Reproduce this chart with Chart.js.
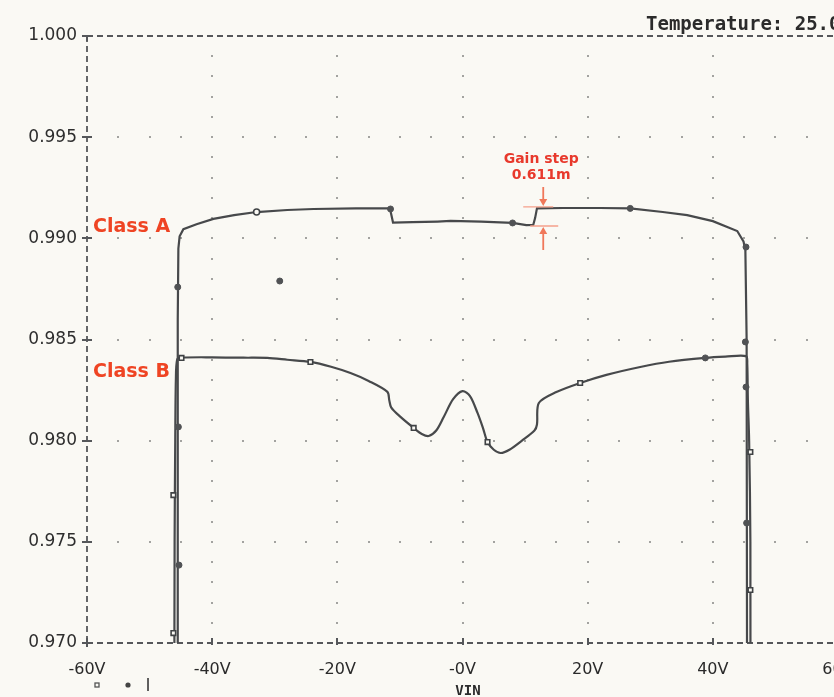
<!DOCTYPE html>
<html><head><meta charset="utf-8">
<script src="https://cdn.jsdelivr.net/npm/chart.js@4"></script>
<style>
html,body{margin:0;padding:0;background:#faf9f4;overflow:hidden;width:834px;height:697px}
#wrap{position:absolute;left:0;top:0;width:900px;height:697px}
</style>
</head><body><div id="wrap"><canvas id="c"></canvas></div>
<script>
// ---- tick labels ----
const xTickValues = [-60, -40, -20, 0, 20, 40, 60];
const xTickLabels = ['-60V', '-40V', '-20V', '-0V', '20V', '40V', '60V'];
const yTickValues = [0.970, 0.975, 0.980, 0.985, 0.990, 0.995, 1.000];
const yTickLabels = ['0.970', '0.975', '0.980', '0.985', '0.990', '0.995', '1.000'];

// ---- series: Class A (VIN in volts, gain) ----
const classA_V = [-45.5, -45.5, -45.4, -45.2, -44.6, -42.5, -39.8, -36.5, -32.9, -28, -23.8, -17, -11.6, -11.4, -11.1, -8, -4, -1.9, 3, 8.0, 10.2, 11.3, 11.6, 11.9, 16.1, 22, 26.8, 32, 35.9, 40, 43.9, 44.9, 45.2, 45.4, 45.5];
const classA_G = [0.960, 0.9860, 0.9895, 0.99010, 0.99045, 0.99070, 0.99096, 0.99115, 0.99130, 0.99140, 0.99145, 0.99148, 0.99148, 0.99120, 0.99078, 0.99080, 0.99083, 0.99086, 0.99083, 0.99076, 0.99065, 0.99066, 0.99100, 0.99148, 0.99150, 0.99150, 0.99148, 0.99130, 0.99115, 0.99085, 0.99036, 0.98985, 0.98940, 0.98500, 0.960];

// ---- series: Class B ----
const classB_V = [-46.1, -46.0, -45.9, -45.8, -45.6, -45.0, -40, -35, -31.2, -28, -24.3, -21, -17.9, -15, -12.0, -11.7, -11.4, -10, -7.8, -6.5, -5.4, -4.2, -3.0, -1.5, 0, 1.2, 2.4, 3.3, 4.0, 5.0, 6.1, 7.5, 9.5, 11.5, 11.9, 12.2, 15, 18.8, 23, 28.4, 33, 38.8, 42, 45.3, 45.5, 45.6, 45.8, 46.0, 46.0];
const classB_G = [0.960, 0.9750, 0.9800, 0.9830, 0.98400, 0.98410, 0.98412, 0.98410, 0.98409, 0.98400, 0.98389, 0.98365, 0.98334, 0.98295, 0.98241, 0.98200, 0.98165, 0.98120, 0.98063, 0.98033, 0.98023, 0.98050, 0.98117, 0.98205, 0.98245, 0.98220, 0.98137, 0.98060, 0.97993, 0.97955, 0.97939, 0.97955, 0.98000, 0.98050, 0.98080, 0.98186, 0.98240, 0.98285, 0.98325, 0.98364, 0.98390, 0.98409, 0.98415, 0.98418, 0.98380, 0.98200, 0.98000, 0.97500, 0.960];

// ---- trace markers ----
const dotMarkV = [-45.5, -45.3, -11.5, 8.0, 26.8, 45.3, 45.2, 45.3, 45.4, 38.8, -45.4, -29.2];
const dotMarkG = [0.98759, 0.97385, 0.99145, 0.99076, 0.99148, 0.98957, 0.98488, 0.98265, 0.97593, 0.98409, 0.98068, 0.98789];
const squareMarkV = [-44.9, -24.3, -7.8, 4.0, 18.8, -46.2, -46.2, 46.0, 46.0];
const squareMarkG = [0.98409, 0.98389, 0.98063, 0.97993, 0.98285, 0.97731, 0.97049, 0.97944, 0.97262];
const circleMarkV = [-32.9];
const circleMarkG = [0.99130];

// ---- annotation values ----
const gainStepHi = 0.99155;
const gainStepLo = 0.99061;
const gainStepV = 12.9;
const gainStepText = ['Gain step', '0.611m'];
const classLabels = [{text: 'Class A', g: 0.99055}, {text: 'Class B', g: 0.98338}];
const tempText = 'Temperature: 25.0';
const axisTitle = 'VIN';

const BG = '#faf9f4';
const LINE = '#47494b';
const RED = '#ef4423';

const pts = (vs, gs) => vs.map((v, i) => ({x: v, y: gs[i]}));

const deco = {
  id: 'deco',
  beforeDraw(chart) {
    const {ctx, width, height} = chart;
    ctx.save(); ctx.fillStyle = BG; ctx.fillRect(0, 0, width, height); ctx.restore();
  },
  beforeDatasetsDraw(chart) {
    const {ctx, chartArea: a, scales: {x, y}} = chart;
    ctx.save();
    // dotted grid
    ctx.fillStyle = '#a3a3a0';
    for (const v of xTickValues.slice(1, -1)) {
      const px = Math.round(x.getPixelForValue(v));
      for (let k = 1; k < 30; k++) {
        const py = Math.round(y.getPixelForValue(0.970 + k * 0.001));
        ctx.fillRect(px - 1, py - 1, 2, 2);
      }
    }
    for (const g of yTickValues.slice(1, -1)) {
      const py = Math.round(y.getPixelForValue(g));
      for (let k = -11; k <= 11; k++) {
        const px = Math.round(x.getPixelForValue(k * 5));
        ctx.fillRect(px - 1, py - 1, 2, 2);
      }
    }
    // dashed frame
    ctx.strokeStyle = '#55575a';
    ctx.lineWidth = 1.8;
    ctx.setLineDash([6, 4]);
    ctx.beginPath();
    ctx.moveTo(a.left, a.top); ctx.lineTo(a.right, a.top);
    ctx.moveTo(a.left, a.top); ctx.lineTo(a.left, a.bottom);
    ctx.moveTo(a.left, a.bottom); ctx.lineTo(a.right, a.bottom);
    ctx.moveTo(a.right, a.top); ctx.lineTo(a.right, a.bottom);
    ctx.stroke();
    ctx.setLineDash([]);
    // tick marks
    ctx.lineWidth = 2;
    ctx.beginPath();
    for (const g of yTickValues) {
      const py = Math.round(y.getPixelForValue(g));
      ctx.moveTo(a.left - 5, py); ctx.lineTo(a.left + 5, py);
    }
    ctx.moveTo(a.left, a.top); ctx.lineTo(a.left, a.top + 5);
    ctx.moveTo(a.left, a.bottom - 5); ctx.lineTo(a.left, a.bottom + 4);
    for (const v of xTickValues.slice(1, -1)) {
      const px = Math.round(x.getPixelForValue(v));
      ctx.moveTo(px, a.bottom - 5); ctx.lineTo(px, a.bottom + 2);
    }
    ctx.stroke();
    ctx.restore();
  },
  afterDraw(chart) {
    const {ctx, chartArea: a, scales: {x, y}} = chart;
    ctx.save();
    // class labels
    ctx.fillStyle = RED;
    ctx.font = 'bold 19px "DejaVu Sans"';
    ctx.textAlign = 'left';
    ctx.textBaseline = 'middle';
    for (const c of classLabels) {
      ctx.fillText(c.text, 93, y.getPixelForValue(c.g));
    }
    // gain step annotation
    const gx = x.getPixelForValue(gainStepV);
    const yHi = y.getPixelForValue(gainStepHi);
    const yLo = y.getPixelForValue(gainStepLo);
    ctx.strokeStyle = '#f5a08a';
    ctx.lineWidth = 1.3;
    ctx.beginPath();
    ctx.moveTo(gx - 20, yHi); ctx.lineTo(gx + 10, yHi);
    ctx.moveTo(gx - 13, yLo); ctx.lineTo(gx + 15, yLo);
    ctx.stroke();
    ctx.strokeStyle = '#f0785a';
    ctx.fillStyle = '#f0785a';
    ctx.lineWidth = 1.8;
    ctx.beginPath();
    ctx.moveTo(gx, yHi - 20); ctx.lineTo(gx, yHi - 5);
    ctx.moveTo(gx, yLo + 24); ctx.lineTo(gx, yLo + 5);
    ctx.stroke();
    ctx.beginPath();
    ctx.moveTo(gx - 4, yHi - 8); ctx.lineTo(gx + 4, yHi - 8); ctx.lineTo(gx, yHi - 1); ctx.closePath();
    ctx.moveTo(gx - 4, yLo + 8); ctx.lineTo(gx + 4, yLo + 8); ctx.lineTo(gx, yLo + 1); ctx.closePath();
    ctx.fill();
    ctx.fillStyle = '#e8392c';
    ctx.font = 'bold 14px "DejaVu Sans"';
    ctx.textAlign = 'center';
    ctx.textBaseline = 'alphabetic';
    ctx.fillText(gainStepText[0], gx - 2, 163);
    ctx.fillText(gainStepText[1], gx - 2, 179);
    // temperature text
    ctx.fillStyle = '#2b2b2b';
    ctx.font = 'bold 19px "DejaVu Sans Mono"';
    ctx.textAlign = 'left';
    ctx.fillText(tempText, 646, 30);
    // axis title
    ctx.font = 'bold 14px "DejaVu Sans Mono"';
    ctx.textAlign = 'center';
    ctx.fillText(axisTitle, 468, 695);
    // trace legend symbols
    ctx.strokeStyle = '#555';
    ctx.lineWidth = 1.3;
    ctx.strokeRect(95, 683, 4, 4);
    ctx.fillStyle = '#444';
    ctx.beginPath(); ctx.arc(128, 685, 2.6, 0, Math.PI * 2); ctx.fill();
    ctx.font = '17px "DejaVu Sans"';
    ctx.fillText('I', 148, 691);
    ctx.restore();
  }
};

const lineDs = (label, vs, gs, tension) => ({
  label, data: pts(vs, gs), showLine: true, borderColor: LINE, borderWidth: 2.2,
  pointRadius: 0, tension, fill: false, order: 2
});

new Chart(document.getElementById('c'), {
  type: 'scatter',
  data: {
    datasets: [
      lineDs('Class A', classA_V, classA_G, 0),
      lineDs('Class B', classB_V, classB_G, 0.3),
      {label: 'dots', data: pts(dotMarkV, dotMarkG), pointStyle: 'circle', pointRadius: 3,
       backgroundColor: '#505254', borderColor: '#505254', borderWidth: 1, order: 1},
      {label: 'squares', data: pts(squareMarkV, squareMarkG), pointStyle: 'rect', pointRadius: 3.2,
       backgroundColor: BG, borderColor: '#3f4244', borderWidth: 1.6, order: 1},
      {label: 'circles', data: pts(circleMarkV, circleMarkG), pointStyle: 'circle', pointRadius: 3,
       backgroundColor: BG, borderColor: '#3f4244', borderWidth: 1.5, order: 1}
    ]
  },
  options: {
    responsive: true,
    maintainAspectRatio: false,
    animation: false,
    layout: {padding: {top: 36, right: 62, left: 0, bottom: 0}},
    plugins: {legend: {display: false}, tooltip: {enabled: false}},
    scales: {
      x: {
        type: 'linear', min: -60, max: 60,
        afterBuildTicks: s => { s.ticks = xTickValues.map(v => ({value: v})); },
        afterFit: s => { s.height = 54; },
        grid: {display: false, drawTicks: false},
        border: {display: false},
        ticks: {
          padding: 17, color: '#2a2a2a', maxRotation: 0, autoSkip: false,
          font: {family: '"DejaVu Sans"', size: 16},
          callback: (v, i) => xTickLabels[i]
        }
      },
      y: {
        type: 'linear', min: 0.970, max: 1.000,
        afterBuildTicks: s => { s.ticks = yTickValues.map(v => ({value: v})); },
        afterFit: s => { s.width = 87; },
        grid: {display: false, drawTicks: false},
        border: {display: false},
        ticks: {
          padding: 10, color: '#2e2e2e', autoSkip: false,
          font: {family: '"DejaVu Sans"', size: 17},
          callback: (v, i) => yTickLabels[i]
        }
      }
    }
  },
  plugins: [deco]
});
</script>
</body></html>
